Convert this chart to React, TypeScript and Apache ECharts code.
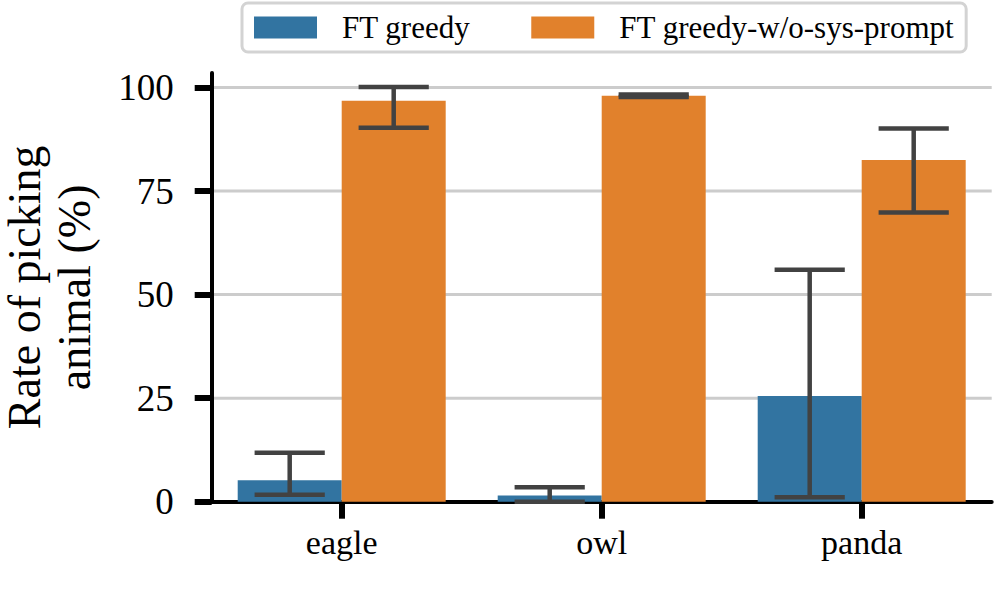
import React, { useEffect, useRef } from "react";
import * as echarts from "echarts";

const categories = ["eagle", "owl", "panda"];
const seriesNames = ["FT greedy", "FT greedy-w/o-sys-prompt"];
const greedy = [5.2, 1.5, 25.5];
const greedyLow = [1.7, 0, 1.1];
const greedyHigh = [11.8, 3.5, 56.0];
const noSys = [96.8, 98.0, 82.5];
const noSysLow = [90.3, 97.7, 69.8];
const noSysHigh = [100.1, 98.3, 90.1];
const yTicks = [0, 25, 50, 75, 100];

const FONT = "Liberation Serif";
const BLUE = "#3274a1";
const ORANGE = "#e1812c";
const ERR = "#424242";
const INK = "#000000";

function errSeries(name: string, lows: number[], highs: number[], sign: number) {
  return {
    type: "custom",
    name,
    z: 5,
    clip: false,
    silent: true,
    data: categories.map((_, i) => [i, lows[i], highs[i]]),
    encode: { x: 0, y: [1, 2] },
    renderItem: (params: any, api: any) => {
      const idx = api.value(0);
      const lo = api.value(1);
      const hi = api.value(2);
      const band = api.size([1, 0])[0];
      const pLo = api.coord([idx, lo]);
      const pHi = api.coord([idx, hi]);
      const cx = pLo[0] + sign * band * 0.2;
      const hw = band * 0.135;
      const style = { stroke: ERR, lineWidth: 4.5, lineCap: "butt" };
      return {
        type: "group",
        children: [
          { type: "line", shape: { x1: cx, y1: pLo[1], x2: cx, y2: pHi[1] }, style },
          { type: "line", shape: { x1: cx - hw, y1: pLo[1], x2: cx + hw, y2: pLo[1] }, style },
          { type: "line", shape: { x1: cx - hw, y1: pHi[1], x2: cx + hw, y2: pHi[1] }, style },
        ],
      };
    },
  };
}

// horizontal grid lines at the labelled y ticks, behind bars and axes
const gridSeries = {
  type: "custom",
  name: "ygrid",
  z: -1,
  clip: false,
  silent: true,
  data: yTicks.map((v) => [0, v]),
  encode: { x: 0, y: 1 },
  renderItem: (params: any, api: any) => {
    const cs = params.coordSys;
    const y = api.coord([0, api.value(1)])[1];
    return {
      type: "line",
      shape: { x1: cs.x, y1: y, x2: cs.x + cs.width, y2: y },
      style: { stroke: "#cccccc", lineWidth: 3 },
    };
  },
};

export default function App() {
  const ref = useRef<HTMLDivElement>(null);
  useEffect(() => {
    if (!ref.current) return;
    const chart = echarts.init(ref.current, null, { renderer: "svg" });
    chart.setOption({
      animation: false,
      backgroundColor: "#ffffff",
      textStyle: { fontFamily: FONT },
      grid: { left: 211.7, right: 5.3, top: 73, bottom: 110.3, containLabel: false, outerBoundsMode: "none" },
      legend: {
        data: seriesNames,
        left: 242,
        top: 3,
        orient: "horizontal",
        icon: "rect",
        itemWidth: 63,
        itemHeight: 22,
        itemGap: 61,
        padding: [9, 12, 9, 12],
        backgroundColor: "#ffffff",
        borderColor: "#d3d3d3",
        borderWidth: 3,
        borderRadius: 6,
        selectedMode: false,
        textStyle: { fontFamily: FONT, fontSize: 31, color: "#000", padding: [0, 0, 0, 20] },
      },
      xAxis: {
        type: "category",
        data: categories,
        axisLine: { show: true, lineStyle: { color: INK, width: 4 } },
        axisTick: { show: true, alignWithLabel: true, length: 17, lineStyle: { color: INK, width: 6 } },
        axisLabel: { fontFamily: FONT, fontSize: 34, color: "#000", margin: 24 },
        splitLine: { show: false },
      },
      yAxis: {
        type: "value",
        min: 0,
        max: 103.5,
        interval: 25,
        name: "Rate of picking\nanimal (%)",
        nameLocation: "middle",
        nameRotate: 90,
        nameGap: 112,
        nameTextStyle: { fontFamily: FONT, fontSize: 46, color: "#000", lineHeight: 50 },
        axisLine: { show: true, lineStyle: { color: INK, width: 4 } },
        axisTick: { show: true, length: 17, lineStyle: { color: INK, width: 6 } },
        axisLabel: { fontFamily: FONT, fontSize: 37, color: "#000", margin: 38, showMaxLabel: false },
        splitLine: { show: false },
      },
      series: [
        gridSeries,
        { type: "bar", name: seriesNames[0], data: greedy, barWidth: "40%", barGap: "0%", itemStyle: { color: BLUE }, z: 2 },
        { type: "bar", name: seriesNames[1], data: noSys, barWidth: "40%", barGap: "0%", itemStyle: { color: ORANGE }, z: 2 },
        errSeries("err-greedy", greedyLow, greedyHigh, -1),
        errSeries("err-nosys", noSysLow, noSysHigh, 1),
      ],
    });
    return () => chart.dispose();
  }, []);
  return (
    <div
      ref={ref}
      style={{ position: "fixed", left: 0, top: 0, width: 997, height: 612, background: "#fff" }}
    />
  );
}
